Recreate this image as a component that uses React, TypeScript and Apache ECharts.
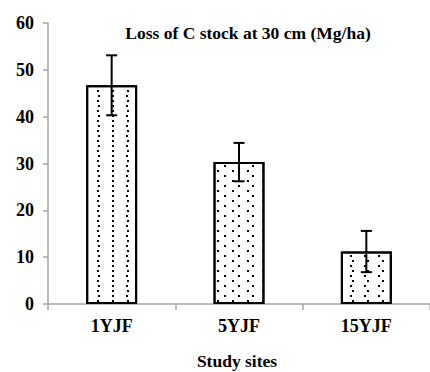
import React, { useEffect, useRef } from "react";
import * as echarts from "echarts";

const categories = ["1YJF", "5YJF", "15YJF"];
const values = [46.7, 30.3, 11.2];
const errors = [6.4, 4.1, 4.4];
const yTicks = [0, 10, 20, 30, 40, 50, 60];
const titleText = "Loss of C stock at 30 cm (Mg/ha)";
const xName = "Study sites";

const FONT = "'Liberation Serif', 'Times New Roman', serif";

export default function App() {
  const ref = useRef<HTMLDivElement>(null);
  useEffect(() => {
    if (!ref.current) return;
    const chart = echarts.init(ref.current, undefined, { renderer: "svg" });
    const errData = categories.map((c, i) => [i, values[i] - errors[i], values[i] + errors[i]]);
    chart.setOption({
      animation: false,
      backgroundColor: "#ffffff",
      grid: { left: 48, right: -10, top: 23, bottom: 68 },
      graphic: [
        {
          type: "text",
          x: 248,
          y: 33,
          style: {
            text: titleText,
            font: `bold 17.5px ${FONT}`,
            fill: "#000",
            textAlign: "center",
            textVerticalAlign: "middle",
          },
        },
        {
          type: "text",
          x: 237,
          y: 361,
          style: {
            text: xName,
            font: `bold 17.5px ${FONT}`,
            fill: "#000",
            textAlign: "center",
            textVerticalAlign: "middle",
          },
        },
      ],
      xAxis: {
        type: "category",
        data: categories,
        axisLine: { lineStyle: { color: "#a6a6a6", width: 1.5 } },
        axisTick: { show: true, length: 6, lineStyle: { color: "#a6a6a6", width: 1.5 } },
        axisLabel: { color: "#000", fontFamily: FONT, fontWeight: "bold", fontSize: 18, margin: 13 },
      },
      yAxis: {
        type: "value",
        min: 0,
        max: 60,
        interval: 10,
        splitLine: { show: false },
        axisLine: { show: true, lineStyle: { color: "#a6a6a6", width: 1.5 } },
        axisTick: { show: true, length: 5, lineStyle: { color: "#a6a6a6", width: 1.5 } },
        axisLabel: {
          color: "#000",
          fontFamily: FONT,
          fontWeight: "bold",
          fontSize: 18,
          margin: 14,
          formatter: (v: number) => (yTicks.includes(v) ? String(v) : ""),
        },
      },
      series: [
        {
          type: "bar",
          data: values,
          barWidth: "40%",
          itemStyle: {
            color: "#ffffff",
            borderColor: "#000",
            borderWidth: 2,
            decal: {
              symbol: "rect",
              symbolSize: 1,
              color: "#000",
              backgroundColor: "#ffffff",
              dashArrayX: [
                [1.4, 11.9],
                [0, 6.6, 1.4, 5.3],
              ],
              dashArrayY: [1.4, 3],
            },
          },
          z: 2,
        },
        {
          type: "custom",
          data: errData,
          z: 5,
          renderItem: (params: any, api: any) => {
            const x = api.value(0);
            const lo = api.coord([x, api.value(1)]);
            const hi = api.coord([x, api.value(2)]);
            const half = 5.5;
            const style = { stroke: "#000", lineWidth: 2 };
            return {
              type: "group",
              children: [
                { type: "line", shape: { x1: lo[0], y1: lo[1], x2: hi[0], y2: hi[1] }, style },
                { type: "line", shape: { x1: hi[0] - half, y1: hi[1], x2: hi[0] + half, y2: hi[1] }, style },
                { type: "line", shape: { x1: lo[0] - half, y1: lo[1], x2: lo[0] + half, y2: lo[1] }, style },
              ],
            };
          },
        },
      ],
    });
    return () => chart.dispose();
  }, []);
  return <div ref={ref} style={{ width: 430, height: 372, position: "absolute", left: 0, top: 0 }} />;
}
